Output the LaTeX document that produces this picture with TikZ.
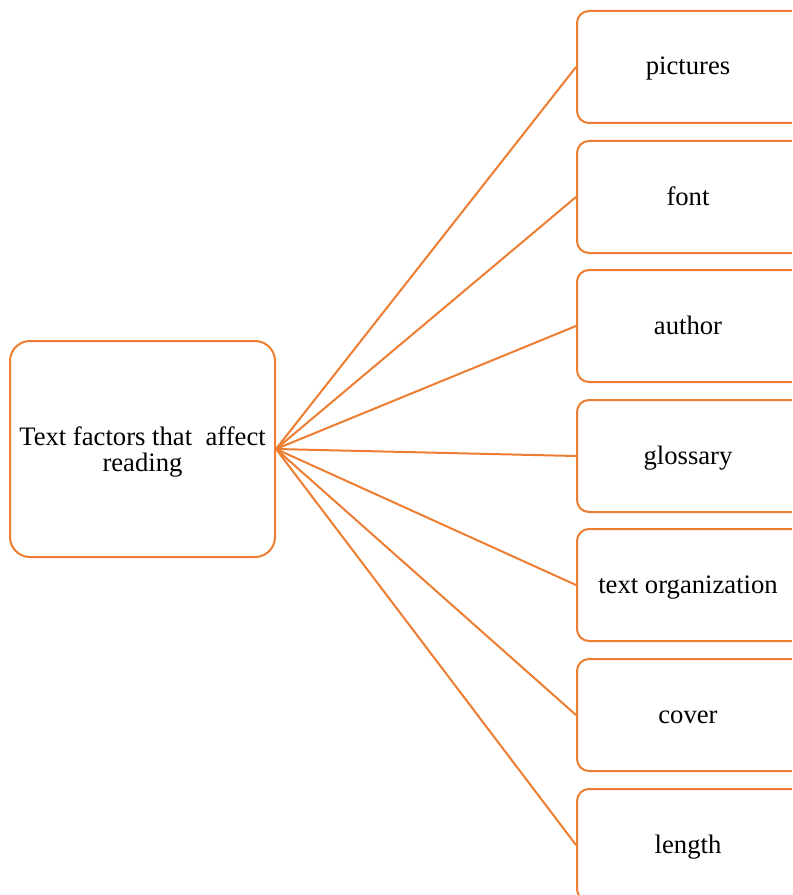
\documentclass[tikz,border=0pt]{standalone}
\usepackage{fontspec}
\setmainfont{Liberation Serif}
\definecolor{accent}{HTML}{ED7D31}
\begin{document}
\begin{tikzpicture}[x=0.75pt,y=-0.75pt,
  leaf/.style={draw=accent,line width=1.5pt,rounded corners=9pt,fill=white,
    minimum width=190pt,minimum height=84pt,inner sep=0pt,anchor=west},
  leaftext/.style={font=\fontsize{20}{23}\selectfont,anchor=base,inner sep=0pt},
  hub/.style={draw=accent,line width=1.5pt,rounded corners=15pt,fill=white,
    minimum width=198.75pt,minimum height=162pt,inner sep=0pt,align=center},
  link/.style={draw=accent,line width=1.5pt}]
\useasboundingbox (0,0) rectangle (792,895);
\clip (0,0) rectangle (792,895);
\node[hub] (h) at (142.5,449) {};
\node[align=center,font=\fontsize{20}{19.5}\selectfont,yshift=-2pt] (ht) at (h.center) {Text factors that\ \ affect\\reading};
\node[leaf] (a) at (576,67) {};
\node[leaf] (b) at (576,197) {};
\node[leaf] (c) at (576,326) {};
\node[leaf] (d) at (576,456) {};
\node[leaf] (e) at (576,585) {};
\node[leaf] (f) at (576,715) {};
\node[leaf] (g) at (576,845) {};
\foreach \n/\t in {a/pictures,b/font,c/author,d/glossary,e/text organization,f/cover,g/length}{
  \node[leaftext] (\n t) at ([xshift=84pt,yshift=-6pt]\n.west) {\t};
  \draw[link] (h.east) -- (\n.west);
}
\end{tikzpicture}
\end{document}
